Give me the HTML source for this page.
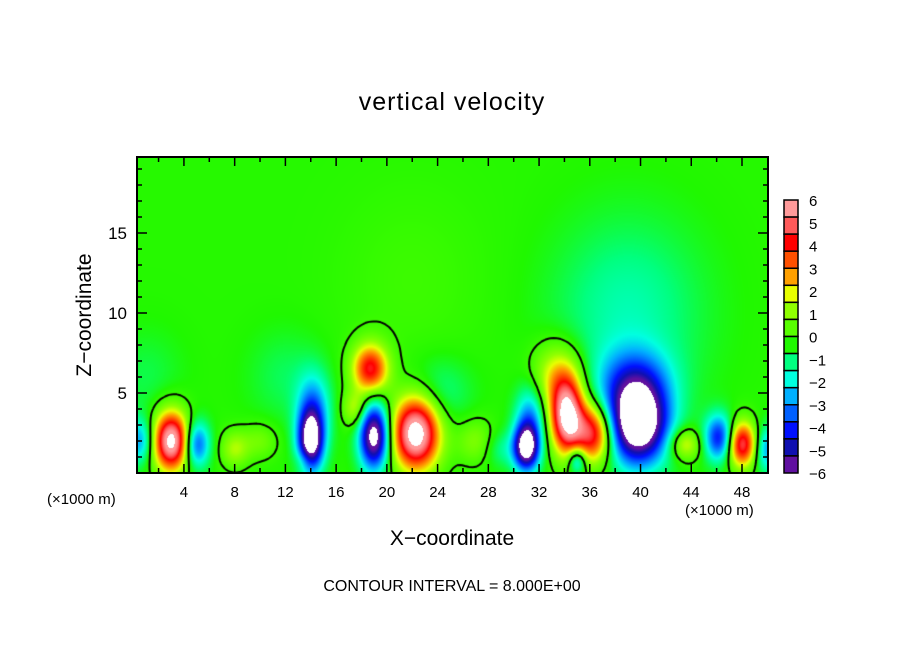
<!DOCTYPE html>
<html><head><meta charset="utf-8"><style>
body{margin:0;background:#fff;}
#wrap{position:relative;width:904px;height:654px;overflow:hidden;font-family:"Liberation Sans",sans-serif;color:#000;}
.t{position:absolute;white-space:nowrap;}
canvas{position:absolute;}
svg{position:absolute;left:0;top:0;}
</style></head><body>
<div id="wrap">
<div class="t" style="left:0;width:904px;text-align:center;top:88px;font-size:25px;letter-spacing:1px;">vertical velocity</div>
<div class="t" style="left:-15px;top:303px;width:200px;text-align:center;font-size:21px;transform:rotate(-90deg);">Z&#8722;coordinate</div>
<div class="t" style="left:0;width:904px;text-align:center;top:527px;font-size:21px;">X&#8722;coordinate</div>
<div class="t" style="left:47px;top:491px;font-size:15px;">(&#215;1000 m)</div>
<div class="t" style="left:685px;top:502px;font-size:15px;">(&#215;1000 m)</div>
<div class="t" style="left:0;width:904px;text-align:center;top:578px;font-size:16px;">CONTOUR INTERVAL = 8.000E+00</div>
<canvas id="cv" width="631" height="316" style="left:137px;top:157px;"></canvas>
<svg id="svg" width="904" height="654"></svg>
</div>
<script>
// blob data: x (km), z (km), amplitude (m/s), x-spread, z-spread
const blobX   = [3,   5,   0.5, 8,   14,  14.2, 13.5, 19,  18.7, 17.5, 22.3, 24,  27,  29,  31,  31.3, 34.2, 36.3, 35,  39.8, 39.5, 39,  22,  43.5, 46.2, 48,  50,  12,  1,   10,  33.5];
const blobZ   = [2,   1.8, 2,   1.5, 2,   4,    0.8,  2.3, 6.5, 4,    2.5,  5,   2,   1.5, 1.6, 3.5, 3.5, 2.5, 0.8, 3,   5.5, 10,  12,  1.8, 2.2, 1.8, 1.5, 6,   6,   2,   6];
const blobA   = [6.8, -3.5,-2.5,1.6, -6.5,-2.5, 0.8,  -6.6,4.6, 1.8,  7.2, -1,  1.2, -1,  -6.6,-2.5, 6.6, 5.2, -3,  -7.4,-3.0, -1.2, 0.3, 2.2, -4,  5.2, -2.5, -0.6, -0.5, 1, 2.5];
const blobSX  = [1.0, 0.7, 0.8, 0.8, 0.7, 0.9,  0.5,  0.8, 1.0, 0.7,  1.3,  1.8, 1.1, 0.9, 0.7, 0.8, 0.9, 1.1, 0.5, 1.6, 2.0, 4,   4,   0.9, 0.8, 0.8, 0.7, 2,   2,   1.0, 1.4];
const blobSZ  = [1.3, 1.0, 1.0, 0.8, 1.3, 1.6,  0.5,  1.4, 1.1, 0.8,  1.6,  1.5, 1.0, 0.8, 1.0, 1.4, 1.6, 1.3, 0.6, 1.7, 1.6, 4,   4,   0.7, 1.0, 1.0, 1.0, 2,   2,   0.8, 1.5];
const baseline = -0.3;
const colorLevels = ["#ff9a9a","#ff5a5a","#ff0000","#ff5000","#ffa000","#e8ff00","#90ff00","#58ff00","#20f800","#00ff80","#00ffe0","#00b0ff","#0060ff","#0010ff","#1010b0","#6010a0"];
const cbarLabels = ["6","5","4","3","2","1","0","\u22121","\u22122","\u22123","\u22124","\u22125","\u22126"];
const xTickLabels = [4,8,12,16,20,24,28,32,36,40,44,48];
const yTickLabels = [5,10,15];

const X0=137,X1=768,Y0=157,Y1=473;
const xmin=0.3,xmax=50.05,zmin=0,zmax=19.75;
const sx=v=>X0+(v-xmin)/(xmax-xmin)*(X1-X0);
const sz=v=>Y1-(v-zmin)/(zmax-zmin)*(Y1-Y0);
function field(x,z){let s=baseline;for(let i=0;i<blobX.length;i++){const dx=(x-blobX[i])/blobSX[i],dz=(z-blobZ[i])/blobSZ[i];s+=blobA[i]*Math.exp(-0.5*(dx*dx+dz*dz));}return s;}
const rgb=colorLevels.map(h=>[parseInt(h.slice(1,3),16),parseInt(h.slice(3,5),16),parseInt(h.slice(5,7),16)]);
function colorOf(v){if(v>6||v<-6)return [255,255,255];let t=(6-v)/0.75-0.5;if(t<0)t=0;if(t>15)t=15;const i=Math.min(14,Math.floor(t)),f=t-i;
 return [0,1,2].map(k=>Math.round(rgb[i][k]*(1-f)+rgb[i+1][k]*f));}
const cv=document.getElementById('cv'),ctx=cv.getContext('2d');
const W=631,H=316;
const img=ctx.createImageData(W,H);
for(let py=0;py<H;py++)for(let px=0;px<W;px++){
 const x=xmin+(px+0.5)/W*(xmax-xmin),z=zmax-(py+0.5)/H*(zmax-zmin);
 const c=colorOf(field(x,z)),o=(py*W+px)*4;img.data[o]=c[0];img.data[o+1]=c[1];img.data[o+2]=c[2];img.data[o+3]=255;}
ctx.putImageData(img,0,0);
// zero contour (marching squares)
const g=4,nx=Math.ceil(W/g)+1,ny=Math.ceil(H/g)+1,F=[];
for(let j=0;j<ny;j++){F[j]=[];for(let i=0;i<nx;i++){F[j][i]=field(xmin+i*g/W*(xmax-xmin),zmax-j*g/H*(zmax-zmin));}}
ctx.strokeStyle="#000";ctx.lineWidth=2;ctx.beginPath();
for(let j=0;j<ny-1;j++)for(let i=0;i<nx-1;i++){
 const a=F[j][i],b=F[j][i+1],c=F[j+1][i+1],d=F[j+1][i];const pts=[];
 const e=(v1,v2,x1,y1,x2,y2)=>{if((v1>0)!==(v2>0)){const t=v1/(v1-v2);pts.push([x1+(x2-x1)*t,y1+(y2-y1)*t]);}};
 const x=i*g,y=j*g;
 e(a,b,x,y,x+g,y);e(b,c,x+g,y,x+g,y+g);e(c,d,x+g,y+g,x,y+g);e(d,a,x,y+g,x,y);
 for(let k=0;k+1<pts.length;k+=2){ctx.moveTo(pts[k][0],pts[k][1]);ctx.lineTo(pts[k+1][0],pts[k+1][1]);}}
ctx.stroke();

const NS="http://www.w3.org/2000/svg",svg=document.getElementById('svg');
function mk(tag,at){const el=document.createElementNS(NS,tag);for(const k in at)el.setAttribute(k,at[k]);svg.appendChild(el);return el;}
let el=mk('rect',{x:X0,y:Y0,width:X1-X0,height:Y1-Y0,fill:'none',stroke:'#000','stroke-width':2});


for(let v=2;v<50;v+=2){const len=(v%4===0)?9:5;
 el=mk('line',{x1:sx(v),x2:sx(v),y1:Y1,y2:Y1-len,stroke:'#000','stroke-width':1.5});
 
 
 el=mk('line',{x1:sx(v),x2:sx(v),y1:Y0,y2:Y0+len,stroke:'#000','stroke-width':1.5});
 
 }
for(let v=1;v<20;v++){const len=(v%5===0)?10:5;
 el=mk('line',{x1:X0,x2:X0+len,y1:sz(v),y2:sz(v),stroke:'#000','stroke-width':1.5});
 
 
 el=mk('line',{x1:X1,x2:X1-len,y1:sz(v),y2:sz(v),stroke:'#000','stroke-width':1.5});
 
 }
xTickLabels.forEach(v=>{el=mk('text',{x:sx(v),y:497,'text-anchor':'middle','font-size':15,'font-family':'Liberation Sans, sans-serif'});el.textContent=v;
 
 });
yTickLabels.forEach(v=>{el=mk('text',{x:127,y:sz(v)+6,'text-anchor':'end','font-size':17,'font-family':'Liberation Sans, sans-serif'});el.textContent=v;
 
 });
// colorbar
const CX=784,CW=14,CT=200,CB=473,bh=(CB-CT)/colorLevels.length;
colorLevels.forEach((c,i)=>{el=mk('rect',{x:CX,y:CT+i*bh,width:CW,height:bh,fill:c,stroke:'#000','stroke-width':1.5});
 
 });
const lh=(CB-CT)/(cbarLabels.length-1);
cbarLabels.forEach((t,i)=>{el=mk('text',{x:809,y:CT+i*lh+6,'font-size':15,'font-family':'Liberation Sans, sans-serif'});el.textContent=t;
 
 });
</script>
</body></html>
